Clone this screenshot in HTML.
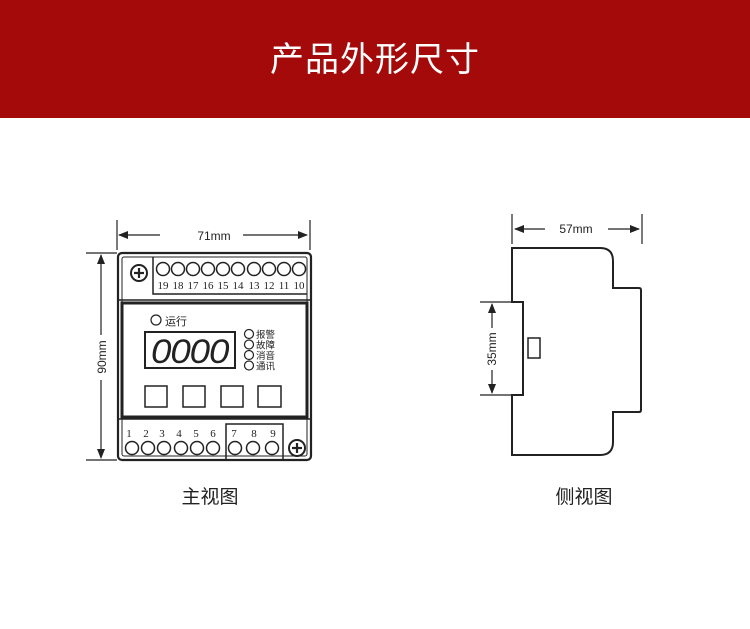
<!DOCTYPE html>
<html><head><meta charset="utf-8"><style>
body{margin:0;width:750px;height:629px;background:#fff;overflow:hidden;font-family:"Liberation Sans","Noto Sans CJK SC",sans-serif}
.hdr{position:absolute;left:0;top:0;width:750px;height:118px;background:#a50a0a;color:#fff;font-size:34px;text-align:center;line-height:120px;letter-spacing:1px}
</style></head><body>
<div class="hdr">产品外形尺寸</div>
<svg width="750" height="629" style="position:absolute;left:0;top:0" font-family="Liberation Sans,Noto Sans CJK SC,sans-serif">
<defs><marker id="a" markerWidth="10" markerHeight="8" refX="9" refY="4" orient="auto" markerUnits="userSpaceOnUse"><path d="M0,0L10,4L0,8z" fill="#222"/></marker></defs>
<g stroke="#222" fill="none" stroke-width="1.2">
<line x1="117" y1="220" x2="117" y2="250"/><line x1="310" y1="220" x2="310" y2="250"/>
<line x1="160" y1="235" x2="119" y2="235" marker-end="url(#a)"/><line x1="243" y1="235" x2="307" y2="235" marker-end="url(#a)"/>
<line x1="86" y1="253" x2="117" y2="253"/><line x1="86" y1="460" x2="117" y2="460"/>
<line x1="101" y1="335" x2="101" y2="255" marker-end="url(#a)"/><line x1="101" y1="380" x2="101" y2="458" marker-end="url(#a)"/>
<rect x="118" y="253" width="193" height="207" rx="4" stroke-width="2.2"/>
<rect x="122" y="257" width="185" height="199" rx="2" stroke-width="1"/>
<line x1="118" y1="300" x2="311" y2="300" stroke-width="1.5"/>
<polyline points="153,257 153,294 307,294" stroke-width="1.5"/>
<rect x="122" y="303" width="185" height="114" stroke-width="3"/>
<line x1="118" y1="419" x2="311" y2="419" stroke-width="1.5"/>
<rect x="226" y="424" width="57" height="36" stroke-width="1.5"/>
<rect x="145" y="332" width="90" height="36" stroke-width="2"/>
<circle cx="156" cy="320" r="5"/>
<circle cx="249" cy="334" r="4.5"/><circle cx="249" cy="344.5" r="4.5"/><circle cx="249" cy="355" r="4.5"/><circle cx="249" cy="365.5" r="4.5"/>
<rect x="145" y="386" width="22" height="21" stroke-width="1.5"/><rect x="183" y="386" width="22" height="21" stroke-width="1.5"/>
<rect x="221" y="386" width="22" height="21" stroke-width="1.5"/><rect x="258" y="386" width="23" height="21" stroke-width="1.5"/>
<g stroke-width="1.5">
<circle cx="163" cy="269" r="6.5"/><circle cx="178" cy="269" r="6.5"/><circle cx="193" cy="269" r="6.5"/><circle cx="208" cy="269" r="6.5"/><circle cx="223" cy="269" r="6.5"/><circle cx="238" cy="269" r="6.5"/><circle cx="254" cy="269" r="6.5"/><circle cx="269" cy="269" r="6.5"/><circle cx="284" cy="269" r="6.5"/><circle cx="299" cy="269" r="6.5"/>
<circle cx="132" cy="448" r="6.5"/><circle cx="148" cy="448" r="6.5"/><circle cx="164" cy="448" r="6.5"/><circle cx="181" cy="448" r="6.5"/><circle cx="197" cy="448" r="6.5"/><circle cx="213" cy="448" r="6.5"/>
<circle cx="235" cy="448" r="6.5"/><circle cx="253" cy="448" r="6.5"/><circle cx="272" cy="448" r="6.5"/>
<circle cx="139" cy="273" r="8" stroke-width="2"/><circle cx="297" cy="448" r="8" stroke-width="2"/>
</g>
<line x1="512" y1="214" x2="512" y2="244"/><line x1="642" y1="214" x2="642" y2="244"/>
<line x1="545" y1="229" x2="515" y2="229" marker-end="url(#a)"/><line x1="608" y1="229" x2="639" y2="229" marker-end="url(#a)"/>
<line x1="480" y1="302" x2="512" y2="302"/><line x1="480" y1="395" x2="512" y2="395"/>
<line x1="492" y1="328" x2="492" y2="304" marker-end="url(#a)"/><line x1="492" y1="370" x2="492" y2="393" marker-end="url(#a)"/>
<path d="M512,248 H600 Q613,248 613,261 V288 H639 Q641,288 641,290 V410 Q641,412 639,412 H613 V442 Q613,455 600,455 H512 V395 H523 V302 H512 Z" stroke-width="2"/>
<rect x="528" y="338" width="12" height="20" stroke-width="1.5"/>
</g>
<g fill="#222" stroke="#222" stroke-width="2.2"><line x1="134" y1="273" x2="144" y2="273"/><line x1="139" y1="268" x2="139" y2="278"/><line x1="292" y1="448" x2="302" y2="448"/><line x1="297" y1="443" x2="297" y2="453"/></g>
<g fill="#222" font-size="12">
<text x="214" y="240" text-anchor="middle">71mm</text>
<text x="576" y="233" text-anchor="middle">57mm</text>
<text transform="translate(106,357) rotate(-90)" text-anchor="middle">90mm</text>
<text transform="translate(496,349) rotate(-90)" text-anchor="middle">35mm</text>
<text x="165" y="325" font-size="11">运行</text>
<g font-size="9.5"><text x="256" y="338">报警</text><text x="256" y="348.5">故障</text><text x="256" y="359">消音</text><text x="256" y="369.5">通讯</text></g>
<g font-family="Liberation Serif,serif" font-size="11" text-anchor="middle">
<text x="163" y="289">19</text><text x="178" y="289">18</text><text x="193" y="289">17</text><text x="208" y="289">16</text><text x="223" y="289">15</text><text x="238" y="289">14</text><text x="254" y="289">13</text><text x="269" y="289">12</text><text x="284" y="289">11</text><text x="299" y="289">10</text>
<text x="129" y="437">1</text><text x="146" y="437">2</text><text x="162" y="437">3</text><text x="179" y="437">4</text><text x="196" y="437">5</text><text x="213" y="437">6</text><text x="234" y="437">7</text><text x="254" y="437">8</text><text x="273" y="437">9</text>
</g>
<g transform="translate(151,363) scale(1.08,1)"><text x="0" y="0" font-size="34" font-style="italic" letter-spacing="-1">0000</text></g>
<text x="210" y="503" font-size="19" text-anchor="middle">主视图</text>
<text x="584" y="503" font-size="19" text-anchor="middle">侧视图</text>
</g>
</svg>
</body></html>
